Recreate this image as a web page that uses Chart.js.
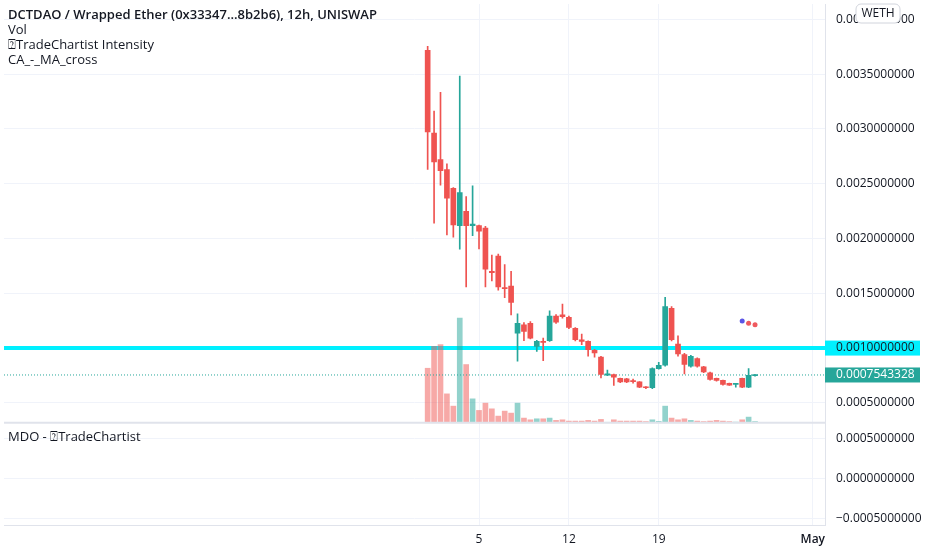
<!DOCTYPE html>
<html>
<head>
<meta charset="utf-8">
<script src="https://cdn.jsdelivr.net/npm/chart.js@4.4.1/dist/chart.umd.min.js"></script>
<style>
  html, body { margin: 0; padding: 0; background: #fff; }
  #wrap { width: 932px; height: 550px; position: relative; }
</style>
</head>
<body>
<div id="wrap"><canvas id="chart"></canvas></div>
<script>
// 12h candles from Apr 1 00:00 (index 0) to Apr 26 12:00 (index 51)
const opens = [0.003717, 0.002963, 0.002721, 0.002630, 0.002458, 0.002118, 0.002247, 0.002118, 0.002118, 0.002096,
  0.001701, 0.001840, 0.001553, 0.001565, 0.001136, 0.001212, 0.001226, 0.001015, 0.001061, 0.001067,
  0.001293, 0.001303, 0.001281, 0.001181, 0.001076, 0.001061, 0.000979, 0.000918, 0.000753, 0.000759,
  0.000723, 0.000719, 0.000703, 0.000692, 0.000644, 0.000638, 0.000813, 0.000843, 0.001362, 0.001036,
  0.000940, 0.000834, 0.000904, 0.000828, 0.000774, 0.000723, 0.000705, 0.000678, 0.000668, 0.000723,
  0.000643, 0.000748];
const highs = [0.003754, 0.003162, 0.003334, 0.002682, 0.002465, 0.003482, 0.002383, 0.002480, 0.002123, 0.002111,
  0.001849, 0.001858, 0.001761, 0.001701, 0.001312, 0.001233, 0.001242, 0.001070, 0.001091, 0.001339,
  0.001305, 0.001402, 0.001292, 0.001188, 0.001127, 0.001065, 0.000988, 0.000925, 0.000798, 0.000762,
  0.000726, 0.000723, 0.000716, 0.000694, 0.000649, 0.000820, 0.000870, 0.001462, 0.001378, 0.001112,
  0.000952, 0.000934, 0.000911, 0.000834, 0.000780, 0.000726, 0.000707, 0.000681, 0.000676, 0.000726,
  0.000813, 0.000757];
const lows = [0.002630, 0.002139, 0.002486, 0.002033, 0.002012, 0.001903, 0.001559, 0.002027, 0.001906, 0.001559,
  0.001613, 0.001529, 0.001459, 0.001303, 0.000880, 0.001067, 0.001083, 0.000970, 0.000886, 0.001061,
  0.001224, 0.001272, 0.001178, 0.001065, 0.001031, 0.000925, 0.000916, 0.000728, 0.000748, 0.000659,
  0.000685, 0.000685, 0.000680, 0.000639, 0.000630, 0.000630, 0.000807, 0.000834, 0.001065, 0.000925,
  0.000764, 0.000825, 0.000825, 0.000775, 0.000707, 0.000698, 0.000662, 0.000658, 0.000643, 0.000639,
  0.000639, 0.000744];
const closes = [0.002972, 0.002700, 0.002619, 0.002368, 0.002123, 0.002419, 0.002118, 0.002132, 0.002066, 0.001719,
  0.001688, 0.001559, 0.001541, 0.001417, 0.001226, 0.001151, 0.001091, 0.001061, 0.001052, 0.001293,
  0.001236, 0.001287, 0.001188, 0.001076, 0.001061, 0.000986, 0.000955, 0.000759, 0.000764, 0.000735,
  0.000692, 0.000692, 0.000694, 0.000644, 0.000638, 0.000813, 0.000843, 0.001378, 0.001076, 0.000946,
  0.000850, 0.000925, 0.000834, 0.000783, 0.000714, 0.000705, 0.000668, 0.000662, 0.000674, 0.000643,
  0.000750, 0.0007543328];
const volumes = [54.7, 76.7, 78.4, 29, 16.7, 105, 58.4, 24, 12.4, 19.7,
  14, 6.7, 11.7, 9.7, 19.7, 4.7, 3, 4, 4, 4.7,
  2.4, 3, 1.7, 1.7, 1.7, 2.4, 1.7, 3.4, 0.5, 3,
  1.7, 1.7, 1.7, 1.7, 1.2, 3, 1.4, 16.7, 4.7, 3,
  4, 2.4, 1.7, 1.2, 1.7, 2.4, 1.7, 1.2, 0.7, 3,
  5.7, 1.2];

// MA cross markers
const crossIndex = [49, 50, 51];
const crossValues = [0.001248, 0.001226, 0.001212];
const crossColors = ['#5b55e6', '#ef5a5f', '#ef5a5f'];

// levels
const levelPrice = 0.001;
const lastPrice = 0.0007543328;

// axes
const priceTicks = [0.0005, 0.0010, 0.0015, 0.0020, 0.0025, 0.0030, 0.0035, 0.0040];
const mdoTicks = [-0.0005, 0, 0.0005];
const dayTicks = [8, 22, 36, 60];
const dayLabels = ['5', '12', '19', 'May'];

const xMin = -66.0, xMax = 61.9;
const priceMin = 0.000318, priceMax = 0.0041404;
const mdoMin = -0.000583, mdoMax = 0.000695;
const priceWeight = 422, mdoWeight = 103;

const RED = '#ef5350', GREEN = '#26a69a';
const up = closes.map((c, i) => c >= opens[i]);
const volAxisMax = Math.max(...volumes) * 4;

const FONT = '"Open Sans", "Noto Sans", sans-serif';

// fixed axis widths, no extra margins for edge labels
const fixWidth = (scale) => {
  scale.width = 107;
  scale.paddingTop = 0;
  scale.paddingBottom = 0;
};

const overlay = {
  id: 'overlay',
  afterDraw(chart) {
    const ctx = chart.ctx;
    const area = chart.chartArea;
    const y = chart.scales.y;
    ctx.save();

    // pane separator
    ctx.strokeStyle = '#e0e3eb';
    ctx.lineWidth = 2;
    ctx.beginPath();
    ctx.moveTo(area.left, y.bottom);
    ctx.lineTo(area.right, y.bottom);
    ctx.stroke();

    // legend texts
    ctx.fillStyle = '#131722';
    ctx.textBaseline = 'middle';
    ctx.textAlign = 'left';
    ctx.font = '600 13px ' + FONT;
    ctx.fillText('DCTDAO / Wrapped Ether (0x33347...8b2b6), 12h, UNISWAP', 8, 15);
    ctx.font = '13px ' + FONT;
    ctx.fillText('Vol', 8, 30);
    ctx.fillText('\u2370TradeChartist Intensity', 8, 45);
    ctx.fillText('CA_-_MA_cross', 8, 60);
    ctx.fillText('MDO - \u2370TradeChartist', 8, 437);

    // price labels on the axis
    const tag = (value, bg, fg) => {
      const py = y.getPixelForValue(value);
      ctx.fillStyle = bg;
      ctx.fillRect(area.right, py - 7.5, 95, 15);
      ctx.fillStyle = fg;
      ctx.font = '12px ' + FONT;
      ctx.fillText(value.toFixed(10), area.right + 11, py);
    };
    tag(levelPrice, '#00f0ff', '#131722');
    tag(lastPrice, GREEN, '#ffffff');

    // currency badge
    const bx = area.right + 31, by = 4, bw = 44, bh = 19;
    ctx.beginPath();
    ctx.roundRect(bx, by, bw, bh, 5);
    ctx.fillStyle = '#ffffff';
    ctx.fill();
    ctx.strokeStyle = '#d1d4dc';
    ctx.lineWidth = 1;
    ctx.stroke();
    ctx.fillStyle = '#131722';
    ctx.textAlign = 'center';
    ctx.font = '12px ' + FONT;
    ctx.fillText('WETH', bx + bw / 2, by + bh / 2 + 0.5);
    ctx.restore();
  }
};

new Chart(document.getElementById('chart'), {
  type: 'bar',
  data: {
    datasets: [
      {
        type: 'line',
        yAxisID: 'y',
        data: [{x: xMin, y: levelPrice}, {x: xMax, y: levelPrice}],
        borderColor: '#00f0ff',
        borderWidth: 4,
        pointRadius: 0,
        order: 9
      },
      {
        yAxisID: 'yv',
        data: volumes.map((v, i) => ({x: i, y: v})),
        backgroundColor: up.map(u => u ? 'rgba(38,166,154,0.5)' : 'rgba(239,83,80,0.5)'),
        barThickness: 5,
        grouped: false,
        order: 8
      },
      {
        type: 'line',
        yAxisID: 'y',
        data: [{x: xMin, y: lastPrice}, {x: xMax, y: lastPrice}],
        borderColor: GREEN,
        borderWidth: 1,
        borderDash: [1, 2],
        pointRadius: 0,
        order: 7
      },
      {
        yAxisID: 'y',
        data: lows.map((l, i) => ({x: i, y: [l, highs[i]]})),
        backgroundColor: up.map(u => u ? GREEN : RED),
        barThickness: 1,
        grouped: false,
        order: 6
      },
      {
        yAxisID: 'y',
        data: opens.map((o, i) => ({x: i, y: [o, closes[i]]})),
        backgroundColor: up.map(u => u ? GREEN : RED),
        barThickness: 5,
        minBarLength: 1,
        grouped: false,
        order: 5
      },
      {
        type: 'scatter',
        yAxisID: 'y',
        data: crossIndex.map((x, i) => ({x: x, y: crossValues[i]})),
        backgroundColor: crossColors,
        borderWidth: 0,
        pointRadius: 2.5,
        order: 4
      }
    ]
  },
  options: {
    responsive: true,
    maintainAspectRatio: false,
    animation: false,
    layout: { padding: 0 },
    plugins: { legend: { display: false }, tooltip: { enabled: false } },
    scales: {
      x: {
        type: 'linear',
        min: xMin,
        max: xMax,
        offset: false,
        afterBuildTicks: (scale) => { scale.ticks = dayTicks.map(v => ({value: v})); },
        afterFit: (scale) => { scale.height = 25; scale.paddingLeft = 0; scale.paddingRight = 0; },
        ticks: {
          autoSkip: false,
          maxRotation: 0,
          padding: 7,
          color: '#131722',
          font: (c) => ({ family: FONT, size: 12, weight: c.tick && c.tick.value === 60 ? '600' : 'normal' }),
          callback: (v) => dayLabels[dayTicks.indexOf(v)]
        },
        grid: { color: '#f0f3fa', drawTicks: false, offset: false },
        border: { color: '#e0e3eb' }
      },
      y: {
        type: 'linear',
        position: 'right',
        stack: 'panes',
        stackWeight: priceWeight,
        min: priceMin,
        max: priceMax,
        afterBuildTicks: (scale) => { scale.ticks = priceTicks.map(v => ({value: v})); },
        afterFit: fixWidth,
        ticks: {
          padding: 11,
          color: '#131722',
          font: { family: FONT, size: 12 },
          callback: (v) => v.toFixed(10)
        },
        grid: { color: '#f0f3fa', drawTicks: false },
        border: { color: '#e0e3eb' }
      },
      ym: {
        type: 'linear',
        position: 'right',
        stack: 'panes',
        stackWeight: mdoWeight,
        min: mdoMin,
        max: mdoMax,
        afterBuildTicks: (scale) => { scale.ticks = mdoTicks.map(v => ({value: v})); },
        afterFit: fixWidth,
        ticks: {
          padding: 11,
          color: '#131722',
          font: { family: FONT, size: 12 },
          callback: (v) => (v < 0 ? '\u2212' : '') + Math.abs(v).toFixed(10)
        },
        grid: { color: '#f0f3fa', drawTicks: false },
        border: { color: '#e0e3eb' }
      },
      yv: {
        type: 'linear',
        position: 'left',
        display: false,
        min: -volAxisMax * mdoWeight / priceWeight,
        max: volAxisMax
      }
    }
  },
  plugins: [overlay]
});
</script>
</body>
</html>
